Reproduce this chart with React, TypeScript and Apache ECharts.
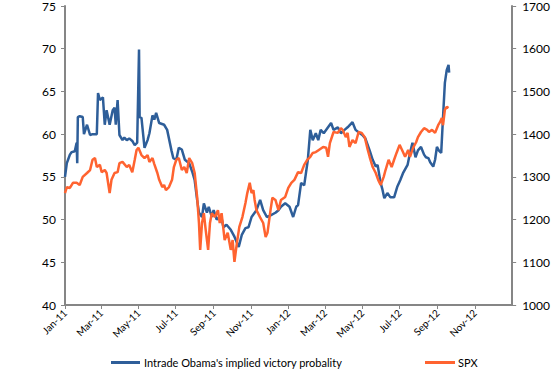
import React, { useEffect, useRef } from "react";
import * as echarts from "echarts";

// x values are days since 1 Jan 2011
const tickDays = [0, 59, 120, 181, 243, 304, 365, 425, 486, 547, 609, 670];
const tickLabels = ["Jan-11", "Mar-11", "May-11", "Jul-11", "Sep-11", "Nov-11", "Jan-12", "Mar-12", "May-12", "Jul-12", "Sep-12", "Nov-12"];

const leftTicks = [40, 45, 50, 55, 60, 65, 70, 75];
const rightTicks = [1000, 1100, 1200, 1300, 1400, 1500, 1600, 1700];

const obamaName = "Intrade Obama's implied victory probality";
const spxName = "SPX";

const obamaPoints: [number, number][] = [
  [0, 55.0], [3, 56.6], [5, 57.0], [8, 57.6], [11, 57.9], [16, 58.0], [19, 59.0], [20, 56.6], [21, 62.0], [24, 62.1],
  [29, 62.0], [31, 60.0], [36, 61.1], [41, 59.9], [45, 60.0], [49, 60.0], [52, 60.0], [54, 64.8], [57, 64.0], [62, 64.3],
  [65, 61.1], [68, 62.8], [73, 61.1], [78, 62.8], [81, 63.1], [83, 61.1], [86, 64.0], [89, 59.9], [94, 59.3], [97, 59.6],
  [101, 59.3], [105, 59.5], [110, 59.2], [114, 58.7], [118, 59.0], [121, 69.9], [122, 62.0], [125, 61.9], [130, 58.4], [135, 59.3],
  [138, 60.1], [143, 62.2], [146, 61.7], [149, 62.5], [154, 61.3], [162, 61.1], [167, 60.5], [174, 58.1], [177, 57.2], [182, 57.0],
  [186, 58.4], [191, 58.2], [196, 57.0], [203, 56.6], [208, 55.6], [212, 54.6], [216, 52.3], [219, 50.8], [224, 50.3], [227, 51.9],
  [232, 50.8], [235, 51.5], [240, 50.3], [243, 51.1], [248, 50.0], [255, 50.5], [259, 49.1], [264, 49.4], [271, 48.8], [277, 48.0],
  [284, 46.8], [289, 48.2], [295, 49.0], [300, 49.1], [305, 50.3], [313, 51.1], [319, 52.3], [324, 51.1], [330, 50.3], [336, 50.5],
  [344, 50.8], [349, 51.1], [353, 51.5], [360, 51.9], [367, 51.5], [373, 50.3], [378, 51.5], [381, 51.7], [386, 54.3], [391, 54.0],
  [394, 55.5], [397, 57.0], [401, 60.5], [405, 59.3], [410, 60.1], [414, 59.3], [418, 60.5], [423, 60.1], [430, 60.8], [435, 61.3],
  [439, 60.5], [446, 60.8], [451, 60.1], [457, 60.5], [462, 60.8], [470, 61.4], [475, 60.5], [482, 60.1], [486, 59.9], [491, 59.5],
  [498, 58.1], [503, 57.0], [508, 56.2], [511, 56.4], [516, 54.3], [519, 53.5], [522, 52.5], [527, 53.1], [532, 52.6], [538, 52.6],
  [543, 53.8], [548, 54.6], [553, 55.5], [560, 56.4], [564, 57.8], [568, 59.0], [573, 57.3], [577, 58.1], [582, 58.5], [587, 57.6],
  [590, 57.3], [594, 57.2], [597, 56.7], [602, 56.2], [605, 57.0], [608, 58.5], [611, 58.1], [615, 57.8], [618, 62.0], [621, 66.0],
  [624, 67.5], [627, 68.1], [628, 67.2],
];

const spxPoints: [number, number][] = [
  [0, 1262], [3, 1276], [8, 1274], [13, 1286], [19, 1286], [24, 1281], [29, 1300], [36, 1309], [41, 1316], [45, 1340],
  [49, 1344], [52, 1323], [57, 1328], [60, 1311], [65, 1316], [68, 1309], [73, 1262], [76, 1293], [81, 1309], [86, 1311],
  [89, 1332], [94, 1335], [101, 1323], [105, 1328], [110, 1311], [114, 1340], [117, 1363], [120, 1368], [125, 1351], [130, 1344],
  [135, 1351], [138, 1335], [143, 1344], [146, 1330], [151, 1309], [154, 1293], [159, 1276], [162, 1281], [165, 1269], [170, 1276],
  [175, 1293], [178, 1323], [182, 1340], [186, 1344], [191, 1316], [195, 1323], [199, 1309], [203, 1344], [208, 1332], [212, 1309],
  [216, 1253], [219, 1192], [221, 1129], [224, 1192], [227, 1215], [230, 1176], [234, 1129], [237, 1192], [240, 1215], [245, 1206],
  [250, 1222], [253, 1192], [256, 1215], [261, 1152], [266, 1169], [271, 1129], [274, 1152], [277, 1101], [281, 1145], [285, 1183],
  [290, 1206], [295, 1239], [298, 1262], [302, 1286], [305, 1262], [308, 1269], [310, 1246], [313, 1222], [319, 1205], [324, 1192],
  [328, 1159], [331, 1169], [336, 1222], [339, 1251], [344, 1246], [349, 1222], [353, 1246], [360, 1253], [365, 1274], [370, 1286],
  [375, 1293], [381, 1311], [386, 1309], [391, 1328], [396, 1340], [401, 1347], [405, 1356], [410, 1358], [415, 1363], [422, 1370],
  [427, 1368], [430, 1347], [433, 1379], [439, 1405], [446, 1403], [451, 1414], [454, 1410], [459, 1393], [462, 1403], [465, 1370],
  [470, 1386], [475, 1379], [480, 1405], [485, 1403], [490, 1393], [495, 1363], [498, 1347], [503, 1323], [508, 1309], [512, 1293],
  [516, 1281], [521, 1300], [524, 1316], [529, 1340], [534, 1323], [538, 1340], [542, 1356], [547, 1375], [551, 1363], [556, 1347],
  [561, 1363], [564, 1347], [569, 1368], [574, 1381], [577, 1393], [582, 1405], [587, 1414], [592, 1410], [595, 1405], [600, 1410],
  [605, 1403], [610, 1421], [613, 1428], [616, 1438], [618, 1421], [621, 1457], [624, 1464], [627, 1461], [628, 1461],
];

const BLUE = "#2E5E99";
const ORANGE = "#FF6330";
const AXIS = "#868686";
const FONT = "Lato";

export default function App() {
  const ref = useRef<HTMLDivElement>(null);
  useEffect(() => {
    if (!ref.current) return;
    const chart = echarts.init(ref.current, undefined, { renderer: "svg" });
    chart.setOption({
      animation: false,
      backgroundColor: "#ffffff",
      textStyle: { fontFamily: FONT },
      grid: { left: 65, right: 37, top: 6, bottom: 64, containLabel: false },
      legend: [
        {
          data: [obamaName],
          left: 111,
          top: 357,
          padding: 0,
          icon: "rect",
          itemWidth: 29,
          itemHeight: 3,
          itemGap: 4,
          textStyle: { fontFamily: FONT, fontSize: 11, color: "#000", padding: [0, 0, 0, -1] },
        },
        {
          data: [spxName],
          left: 425,
          top: 357,
          padding: 0,
          icon: "rect",
          itemWidth: 30,
          itemHeight: 3,
          textStyle: { fontFamily: FONT, fontSize: 11, color: "#000", padding: [0, 0, 0, -2] },
        },
      ],
      xAxis: {
        type: "value",
        min: 0,
        max: 731,
        splitLine: { show: false },
        axisLine: { lineStyle: { color: AXIS, width: 2 } },
        axisTick: { show: true, customValues: tickDays, length: 4, lineStyle: { color: AXIS, width: 1 } },
        axisLabel: {
          customValues: tickDays,
          rotate: 45,
          fontSize: 10,
          color: "#000",
          fontFamily: FONT,
          margin: 6,
          formatter: (v: number) => {
            const i = tickDays.indexOf(Math.round(v));
            return i >= 0 ? tickLabels[i] : "";
          },
        },
      },
      yAxis: [
        {
          type: "value",
          min: leftTicks[0],
          max: leftTicks[leftTicks.length - 1],
          interval: 5,
          splitLine: { show: false },
          axisLine: { show: true, lineStyle: { color: AXIS, width: 2 } },
          axisTick: { show: true, length: 4, lineStyle: { color: AXIS } },
          axisLabel: { fontSize: 12, color: "#000", fontFamily: FONT, margin: 9, formatter: (v: number) => String(v) },
        },
        {
          type: "value",
          position: "right",
          min: rightTicks[0],
          max: rightTicks[rightTicks.length - 1],
          interval: 100,
          splitLine: { show: false },
          axisLine: { show: true, lineStyle: { color: AXIS, width: 2 } },
          axisTick: { show: true, length: 4, lineStyle: { color: AXIS } },
          axisLabel: { fontSize: 12, color: "#000", fontFamily: FONT, margin: 10, formatter: (v: number) => String(v) },
        },
      ],
      series: [
        {
          name: obamaName,
          type: "line",
          yAxisIndex: 0,
          data: obamaPoints,
          showSymbol: false,
          symbol: "none",
          color: BLUE,
          lineStyle: { color: BLUE, width: 2.5 },
          z: 2,
        },
        {
          name: spxName,
          type: "line",
          yAxisIndex: 1,
          data: spxPoints,
          showSymbol: false,
          symbol: "none",
          color: ORANGE,
          lineStyle: { color: ORANGE, width: 2.5 },
          z: 3,
        },
      ],
    });
    return () => chart.dispose();
  }, []);
  return <div ref={ref} style={{ width: 553, height: 369, position: "absolute", left: 0, top: 0 }} />;
}
